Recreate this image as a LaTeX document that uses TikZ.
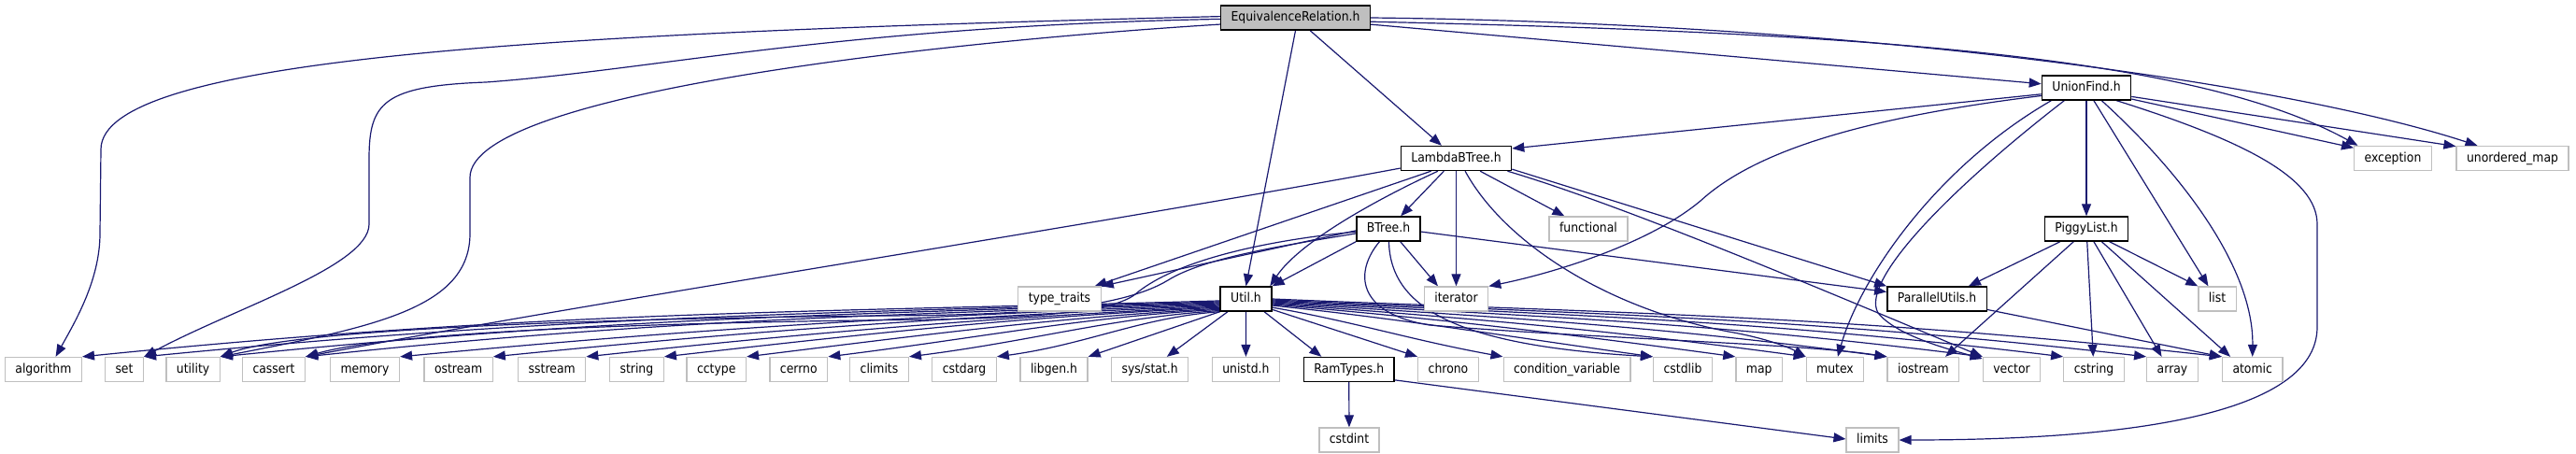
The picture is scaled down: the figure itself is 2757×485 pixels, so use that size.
\documentclass[tikz,border=0pt]{standalone}
\usepackage{fontspec}
\setmainfont{DejaVu Sans}[FakeStretch=0.9]
\usetikzlibrary{arrows.meta}
\definecolor{edgeblue}{HTML}{191970}
\definecolor{boxgray}{HTML}{BFBFBF}
\pgfdeclarelayer{background}
\pgfsetlayers{background,main}
\begin{document}
\begin{tikzpicture}[x=1pt,y=-1pt,
  base/.style={rectangle,minimum height=26pt,inner xsep=11pt,inner ysep=0pt,text height=10pt,text depth=3pt,font=\fontsize{13.8}{16}\selectfont,fill=white},
  sys/.style={base,draw=boxgray,line width=1.3pt},
  doc/.style={base,draw=black,line width=1.4pt},
  root/.style={doc,fill=boxgray},
  dep/.style={draw=edgeblue,line width=1.2pt,-{Triangle[length=13pt,width=10pt]}}]
\useasboundingbox (0,0) rectangle (2757,485);
% nodes
\node[root] (E) at (1386.5,19) {EquivalenceRelation.h};
\node[doc] (UF) at (2233,94) {UnionFind.h};
\node[doc] (L) at (1558.5,169.5) {LambdaBTree.h};
\node[sys] (exc) at (2561,169.5) {exception};
\node[sys] (umap) at (2689,169.5) {unordered\_map};
\node[doc] (B) at (1486,245) {BTree.h};
\node[sys] (func) at (1700,245) {functional};
\node[doc] (P) at (2233,245) {PiggyList.h};
\node[sys] (tt) at (1134,320) {type\_traits};
\node[doc] (U) at (1333.5,320) {Util.h};
\node[sys] (it) at (1558.5,320) {iterator};
\node[doc] (PU) at (2073,320) {ParallelUtils.h};
\node[sys] (list) at (2373,320) {list};
\node[sys] (alg) at (46.4,395.5) {algorithm};
\node[sys] (set) at (133,395.5) {set};
\node[sys] (utility) at (206.6,395.5) {utility};
\node[sys] (cassert) at (293,395.5) {cassert};
\node[sys] (memory) at (390.5,395.5) {memory};
\node[sys] (ostream) at (490.6,395.5) {ostream};
\node[sys] (sstream) at (590.7,395.5) {sstream};
\node[sys] (string) at (681.4,395.5) {string};
\node[sys] (cctype) at (766.7,395.5) {cctype};
\node[sys] (cerrno) at (854.8,395.5) {cerrno};
\node[sys] (climits) at (941,395.5) {climits};
\node[sys] (cstdarg) at (1032,395.5) {cstdarg};
\node[sys] (libgen) at (1128,395.5) {libgen.h};
\node[sys] (sysstat) at (1230.7,395.5) {sys/stat.h};
\node[sys] (unistd) at (1333.4,395.5) {unistd.h};
\node[doc] (ram) at (1443.7,395.5) {RamTypes.h};
\node[sys] (chrono) at (1550,395.5) {chrono};
\node[sys] (condvar) at (1677,395.5) {condition\_variable};
\node[sys] (cstdlib) at (1801,395.5) {cstdlib};
\node[sys] (map) at (1882.7,395.5) {map};
\node[sys] (mutex) at (1964,395.5) {mutex};
\node[sys] (iostream) at (2058.4,395.5) {iostream};
\node[sys] (vector) at (2153,395.5) {vector};
\node[sys] (cstring) at (2241,395.5) {cstring};
\node[sys] (array) at (2325,395.5) {array};
\node[sys] (atomic) at (2410.7,395.5) {atomic};
\node[sys] (cstdint) at (1444,471) {cstdint};
\node[sys] (limits) at (2004,471) {limits};
\begin{pgfonlayer}{background}
\fill[white] (0,0) rectangle (2757,485);
% EquivalenceRelation.h
\draw[dep] (E.179) .. controls (600,35) and (108,60) .. (108,160) -- (107,250) .. controls (107,300) and (80,345) .. (alg.46);
\draw[dep] (E.181) .. controls (900,28) and (700,75) .. (520,88) .. controls (410,92) and (395,110) .. (395,170) -- (395,240) .. controls (395,285) and (250,330) .. (set.north east);
\draw[dep] (E.185) .. controls (1000,45) and (503,100) .. (503,190) -- (503,250) .. controls (503,330) and (400,350) .. (utility.north east);
\draw[dep] (E.south) -- (U.north);
\draw[dep] (E) -- (L);
\draw[dep] (E) -- (UF);
\draw[dep] (E.-3) .. controls (2000,35) and (2350,60) .. (exc.160);
\draw[dep] (E.east) .. controls (2000,25) and (2450,90) .. (umap.160);
% UnionFind.h
\draw[dep] (UF.188) -- (L.10);
\draw[dep] (UF.190) .. controls (2000,125) and (1880,160) .. (1820,215) .. controls (1760,265) and (1650,295) .. (it.north east);
\draw[dep] (UF) -- (P);
\draw[dep] (UF.-60) -- (list.125);
\draw[dep] (UF.-40) .. controls (2340,190) and (2412,290) .. (atomic.north);
\draw[dep] (UF.-23) .. controls (2400,150) and (2480,190) .. (2480,240) -- (2480,350) .. controls (2480,450) and (2250,471) .. (limits.east);
\draw[dep] (UF.-14) -- (exc.165);
\draw[dep] (UF.-11) -- (umap.168);
\draw[dep] (UF.-160) .. controls (2070,180) and (1990,300) .. (mutex.78);
\draw[dep] (UF.-150) .. controls (2090,200) and (1990,300) .. (2010,335) .. controls (2030,360) and (2090,375) .. (vector.160);
% PiggyList.h
\draw[dep] (P.-154) -- (PU.22);
\draw[dep] (P.-135) -- (iostream.30);
\draw[dep] (P) -- (cstring);
\draw[dep] (P.-60) -- (array.130);
\draw[dep] (P.-40) -- (atomic.150);
\draw[dep] (P.-29) -- (list.north west);
% ParallelUtils.h
\draw[dep] (PU.-12) -- (atomic.north west);
% LambdaBTree.h
\draw[dep] (L.190) .. controls (1150,245) and (650,320) .. (cassert.north east);
\draw[dep] (L.-153) -- (tt.20);
\draw[dep] (L.-145) .. controls (1470,215) and (1390,260) .. (U.28);
\draw[dep] (L) -- (B);
\draw[dep] (L) -- (it);
\draw[dep] (L) -- (func);
\draw[dep] (L.-55) .. controls (1610,260) and (1720,330) .. (1850,355) .. controls (1890,362) and (1915,372) .. (mutex.north west);
\draw[dep] (L.-11) -- (PU.north west);
\draw[dep] (L.-14) .. controls (1720,215) and (1880,280) .. (vector.north west);
% BTree.h
\draw[dep] (B.183) -- (tt.north east);
\draw[dep] (B.south west) -- (U.north east);
\draw[dep] (B.-47) -- (it.145);
\draw[dep] (B.-5) -- (PU.172);
\draw[dep] (B.-88) .. controls (1488,330) and (1560,370) .. (cstdlib.north west);
\draw[dep] (B.-125) .. controls (1450,290) and (1450,335) .. (1530,348) .. controls (1700,362) and (1930,368) .. (iostream.north west);
\draw[dep] (B.185) .. controls (1330,260) and (1250,285) .. (1215,315) .. controls (1190,335) and (1100,340) .. (1000,342) .. controls (700,345) and (420,355) .. (cassert.north east);
\draw[dep] (B.188) .. controls (1380,262) and (1290,275) .. (1250,300) .. controls (1200,330) and (1100,337) .. (950,338) .. controls (700,340) and (320,350) .. (utility.north east);
% Util.h, to the left
\draw[dep] (U.184) .. controls +(-426,12) and +(487,-49) .. (alg.north east);
\draw[dep] (U.186) .. controls +(-403,12) and +(461,-45) .. (set.north east);
\draw[dep] (U.188) .. controls +(-375,12) and +(428,-43) .. (utility.north east);
\draw[dep] (U.190) .. controls +(-342,12) and +(391,-41) .. (cassert.north east);
\draw[dep] (U.192) .. controls +(-307,12) and +(351,-33) .. (memory.north east);
\draw[dep] (U.194) .. controls +(-272,12) and +(311,-31) .. (ostream.north east);
\draw[dep] (U.196) .. controls +(-237,12) and +(271,-29) .. (sstream.north east);
\draw[dep] (U.198) .. controls +(-208,10) and +(238,-27) .. (string.north east);
\draw[dep] (U.200) .. controls +(-177,10) and +(203,-25) .. (cctype.north east);
\draw[dep] (U.202) .. controls +(-147,8) and +(168,-21) .. (cerrno.north east);
\draw[dep] (U.204) .. controls +(-117,8) and +(133,-17) .. (climits.north east);
\draw[dep] (U.206) .. controls +(-84,6) and +(96,-13) .. (cstdarg.north east);
\draw[dep] (U.south west) -- (libgen.north east);
\draw[dep] (U.-145) -- (sysstat.37);
\draw[dep] (U) -- (unistd);
% Util.h, to the right
\draw[dep] (U.-35) -- (ram.155);
\draw[dep] (U.-22) -- (chrono.north west);
\draw[dep] (U.-18) .. controls +(87,15) and +(-99,-18) .. (condvar.north west);
\draw[dep] (U.-14) .. controls +(143,15) and +(-164,-23) .. (cstdlib.north west);
\draw[dep] (U.-12) .. controls +(174,15) and +(-199,-27) .. (map.north west);
\draw[dep] (U.-10) .. controls +(200,15) and +(-229,-31) .. (mutex.north west);
\draw[dep] (U.-8) .. controls +(230,15) and +(-263,-35) .. (iostream.north west);
\draw[dep] (U.-6) .. controls +(266,15) and +(-304,-38) .. (vector.north west);
\draw[dep] (U.-4) .. controls +(297,15) and +(-339,-41) .. (cstring.north west);
\draw[dep] (U.-2) .. controls +(328,15) and +(-375,-43) .. (array.north west);
\draw[dep] (U.0) .. controls +(356,15) and +(-407,-45) .. (atomic.north west);
% RamTypes.h
\draw[dep] (ram) -- (cstdint);
\draw[dep] (ram.-13) -- (limits.178);
\end{pgfonlayer}
\end{tikzpicture}
\end{document}
